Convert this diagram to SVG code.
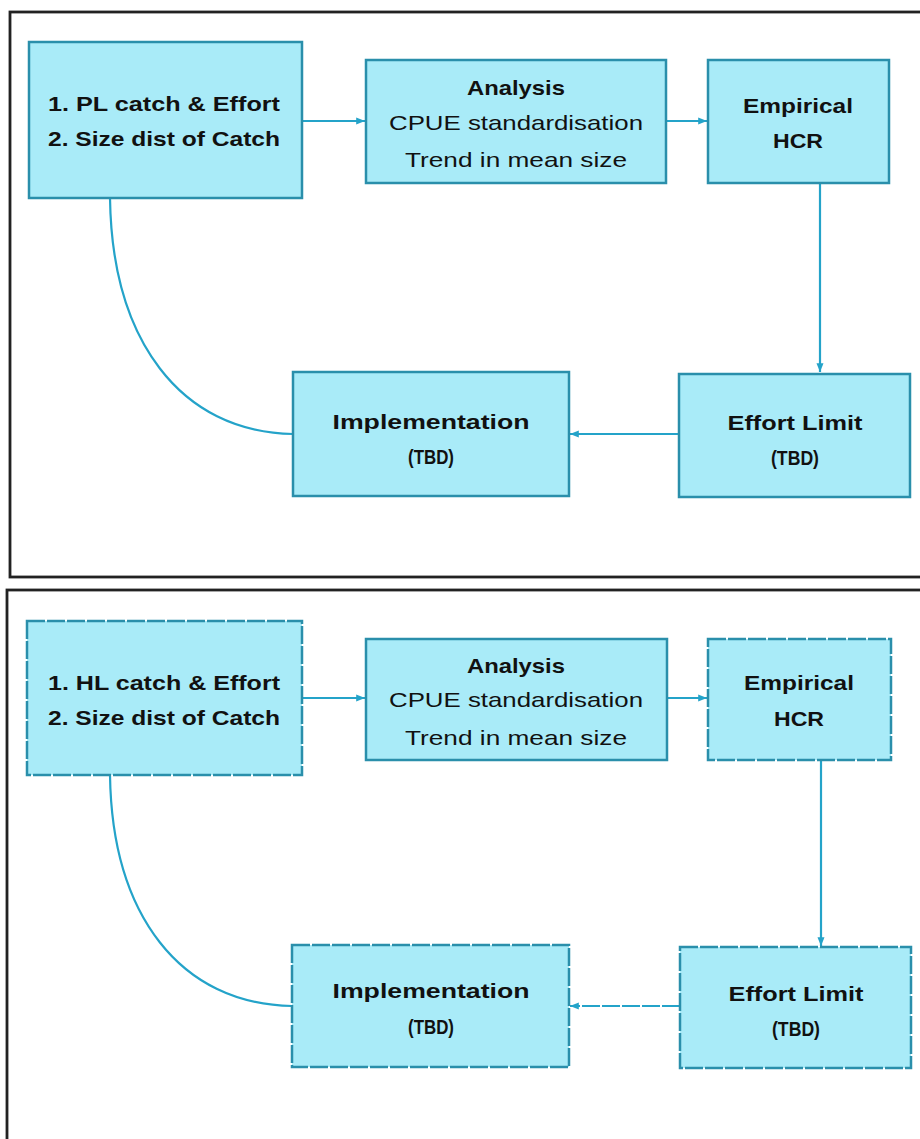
<svg xmlns="http://www.w3.org/2000/svg" width="920" height="1139" viewBox="0 0 920 1139">
<style>
.frame{fill:none;stroke:#222;stroke-width:2.8}
.box{fill:#a9ebf8;stroke:#2a8fab;stroke-width:2.5}
.dash{stroke-dasharray:18 2}
.conn{fill:none;stroke:#24a3c9;stroke-width:2.2}
.b{font-family:"Liberation Sans",Arial,sans-serif;font-weight:bold;font-size:21px;fill:#111;text-anchor:middle}
.r{font-family:"Liberation Sans",Arial,sans-serif;font-size:21px;fill:#111;text-anchor:middle}
</style>
<defs>
<marker id="ah" viewBox="0 0 10 10" refX="10" refY="5" markerWidth="4" markerHeight="4" orient="auto" markerUnits="strokeWidth">
<path d="M0,1 L10,5 L0,9 z" fill="#24a3c9"/>
</marker>
</defs>
<rect width="920" height="1139" fill="#fff"/>
<rect class="frame" x="10" y="12" width="930" height="565"/>
<rect class="frame" x="7" y="590" width="930" height="580"/>

<g id="connectors">
<line class="conn" x1="302" y1="121" x2="365" y2="121" marker-end="url(#ah)"/>
<line class="conn" x1="666" y1="121" x2="707" y2="121" marker-end="url(#ah)"/>
<line class="conn" x1="820" y1="183" x2="820" y2="372" marker-end="url(#ah)"/>
<line class="conn" x1="680" y1="434" x2="570" y2="434" marker-end="url(#ah)"/>
<path class="conn" d="M110,198 C112,340 180,432 293,434"/>
<line class="conn" x1="302" y1="698" x2="365" y2="698" marker-end="url(#ah)"/>
<line class="conn" x1="667" y1="698" x2="707" y2="698" marker-end="url(#ah)"/>
<line class="conn" x1="821" y1="760" x2="821" y2="946" marker-end="url(#ah)"/>
<line class="conn dash" x1="680" y1="1006" x2="570" y2="1006" marker-end="url(#ah)"/>
<path class="conn" d="M110,775 C112,915 180,1004 292,1006"/>
</g>

<g id="top-data">
<rect class="box" x="29" y="42" width="273" height="156"/>
<text class="b" x="164" y="111" textLength="232" lengthAdjust="spacingAndGlyphs">1. PL catch &amp; Effort</text>
<text class="b" x="164" y="146" textLength="232" lengthAdjust="spacingAndGlyphs">2. Size dist of Catch</text>
</g>
<g id="top-analysis">
<rect class="box" x="366" y="60" width="300" height="123"/>
<text class="b" x="516" y="95" textLength="98" lengthAdjust="spacingAndGlyphs">Analysis</text>
<text class="r" x="516" y="130" textLength="254" lengthAdjust="spacingAndGlyphs">CPUE standardisation</text>
<text class="r" x="516" y="167" textLength="222" lengthAdjust="spacingAndGlyphs">Trend in mean size</text>
</g>
<g id="top-hcr">
<rect class="box" x="708" y="60" width="181" height="123"/>
<text class="b" x="798" y="113" textLength="110" lengthAdjust="spacingAndGlyphs">Empirical</text>
<text class="b" x="798" y="148" textLength="50" lengthAdjust="spacingAndGlyphs">HCR</text>
</g>
<g id="top-effort">
<rect class="box" x="679" y="374" width="231" height="123"/>
<text class="b" x="795" y="430" textLength="135" lengthAdjust="spacingAndGlyphs">Effort Limit</text>
<text class="b" x="795" y="465" textLength="48" lengthAdjust="spacingAndGlyphs">(TBD)</text>
</g>
<g id="top-impl">
<rect class="box" x="293" y="372" width="276" height="124"/>
<text class="b" x="431" y="429" textLength="197" lengthAdjust="spacingAndGlyphs">Implementation</text>
<text class="b" x="431" y="464" textLength="46" lengthAdjust="spacingAndGlyphs">(TBD)</text>
</g>

<g id="bot-data">
<rect class="box dash" x="27" y="621" width="275" height="154"/>
<text class="b" x="164" y="690" textLength="232" lengthAdjust="spacingAndGlyphs">1. HL catch &amp; Effort</text>
<text class="b" x="164" y="725" textLength="232" lengthAdjust="spacingAndGlyphs">2. Size dist of Catch</text>
</g>
<g id="bot-analysis">
<rect class="box" x="366" y="639" width="301" height="121"/>
<text class="b" x="516" y="673" textLength="98" lengthAdjust="spacingAndGlyphs">Analysis</text>
<text class="r" x="516" y="707" textLength="254" lengthAdjust="spacingAndGlyphs">CPUE standardisation</text>
<text class="r" x="516" y="745" textLength="222" lengthAdjust="spacingAndGlyphs">Trend in mean size</text>
</g>
<g id="bot-hcr">
<rect class="box dash" x="708" y="639" width="183" height="121"/>
<text class="b" x="799" y="690" textLength="110" lengthAdjust="spacingAndGlyphs">Empirical</text>
<text class="b" x="799" y="726" textLength="50" lengthAdjust="spacingAndGlyphs">HCR</text>
</g>
<g id="bot-effort">
<rect class="box dash" x="680" y="947" width="231" height="121"/>
<text class="b" x="796" y="1001" textLength="135" lengthAdjust="spacingAndGlyphs">Effort Limit</text>
<text class="b" x="796" y="1036" textLength="48" lengthAdjust="spacingAndGlyphs">(TBD)</text>
</g>
<g id="bot-impl">
<rect class="box dash" x="292" y="945" width="277" height="122"/>
<text class="b" x="431" y="998" textLength="197" lengthAdjust="spacingAndGlyphs">Implementation</text>
<text class="b" x="431" y="1034" textLength="46" lengthAdjust="spacingAndGlyphs">(TBD)</text>
</g>
</svg>
